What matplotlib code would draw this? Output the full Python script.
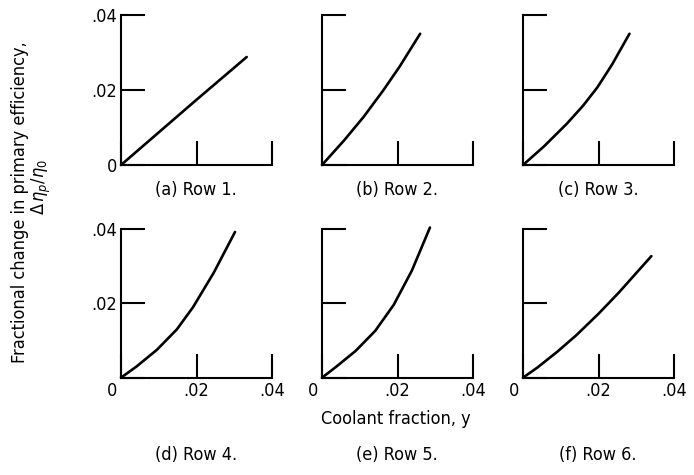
import matplotlib
matplotlib.use("Agg")
import matplotlib.pyplot as plt
from matplotlib.transforms import ScaledTranslation

plt.rcParams['font.family'] = ['DejaVu Sans']
plt.rcParams['font.stretch'] = 'condensed'
plt.rcParams['mathtext.fontset'] = 'dejavusans'

# coolant fraction y and fractional change in primary efficiency, per row
rows = ["(a) Row 1.", "(b) Row 2.", "(c) Row 3.",
        "(d) Row 4.", "(e) Row 5.", "(f) Row 6."]
x_a = [0, 0.010, 0.020, 0.0333]
y_a = [0, 0.0087, 0.0174, 0.0288]
x_b = [0, 0.0058, 0.0110, 0.0163, 0.0206, 0.0260]
y_b = [0, 0.0065, 0.0128, 0.0200, 0.0263, 0.0350]
x_c = [0, 0.0056, 0.0116, 0.0159, 0.0197, 0.0236, 0.0282]
y_c = [0, 0.0050, 0.0110, 0.0158, 0.0207, 0.0268, 0.0350]
x_d = [0, 0.0041, 0.0095, 0.0148, 0.0191, 0.0246, 0.0302]
y_d = [0, 0.0030, 0.0075, 0.0130, 0.0190, 0.0283, 0.0392]
x_e = [0, 0.0037, 0.0089, 0.0141, 0.0190, 0.0238, 0.0286]
y_e = [0, 0.0029, 0.0072, 0.0126, 0.0196, 0.0288, 0.0404]
x_f = [0, 0.0039, 0.0091, 0.0142, 0.0200, 0.0253, 0.0296, 0.0340]
y_f = [0, 0.0028, 0.0070, 0.0115, 0.0172, 0.0228, 0.0277, 0.0327]
xs = [x_a, x_b, x_c, x_d, x_e, x_f]
ys = [y_a, y_b, y_c, y_d, y_e, y_f]

ticks = [0, 0.02, 0.04]
tick_labels = ["0", ".02", ".04"]

fig = plt.figure(figsize=(6.94, 4.75), dpi=100)
W, H = 694, 475
lefts = [121, 322, 523]
row_geom = [(165, 150), (377.7, 148.7)]  # (bottom px, height px)

for i in range(6):
    r, c = divmod(i, 3)
    bot, hgt = row_geom[r]
    ax = fig.add_axes([lefts[c] / W, 1 - bot / H, 151 / W, hgt / H])
    ax.plot(xs[i], ys[i], color='black', lw=1.9, clip_on=False,
            solid_joinstyle='round', solid_capstyle='round')
    ax.set_xlim(0, 0.04)
    ax.set_ylim(0, 0.04)
    for s in ['top', 'right']:
        ax.spines[s].set_visible(False)
    for s in ['left', 'bottom']:
        ax.spines[s].set_linewidth(1.5)
    ax.set_xticks(ticks)
    ax.set_yticks(ticks)
    ax.tick_params(direction='in', length=17, width=1.5, labelsize=13,
                   pad=3)
    if c == 0:
        if r == 0:
            ax.set_yticklabels(tick_labels)
        else:
            ax.set_yticklabels(["", ".02", ".04"])
    else:
        ax.set_yticklabels([])
    if r == 1:
        ax.set_xticklabels(tick_labels)
        lab0 = ax.get_xticklabels()[0]
        lab0.set_transform(lab0.get_transform() +
                           ScaledTranslation(-0.09, 0, fig.dpi_scale_trans))
    else:
        ax.set_xticklabels([])
    cap_y = 190 if r == 0 else 455
    fig.text((lefts[c] + 75) / W, 1 - cap_y / H, rows[i], fontsize=13,
             ha='center', va='center')

fig.text(396 / W, 1 - 419 / H, "Coolant fraction, y", fontsize=13,
         ha='center', va='center')
fig.text(20 / W, 1 - 202 / H, "Fractional change in primary efficiency,",
         fontsize=13, rotation=90, ha='center', va='center')
fig.text(41 / W, 1 - 187 / H, r"$\Delta\,\eta_p/\eta_0$",
         fontsize=13, rotation=90, ha='center', va='center')

fig.savefig("out.png", dpi=100)
